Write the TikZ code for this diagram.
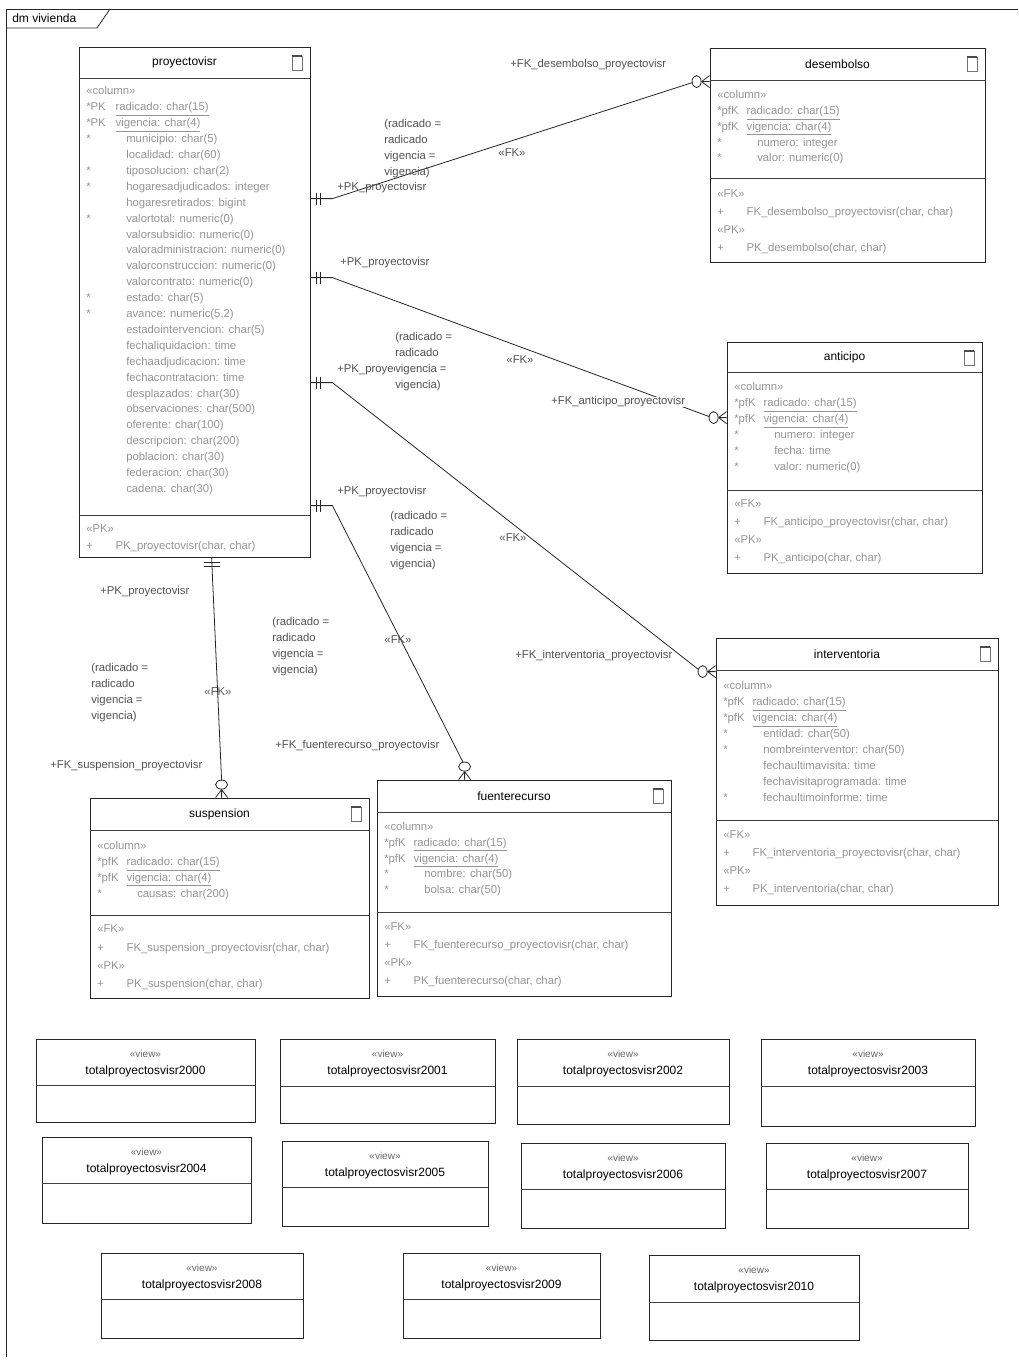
\documentclass[tikz,border=0pt]{standalone}
\usepackage{fontspec}
\setmainfont{Liberation Sans}
\usetikzlibrary{calc,fit}
\newcommand\pkr[2]{\makebox[22pt][l]{#1}\underline{#2}}
\newcommand\atr[2]{\makebox[30pt][l]{#1}#2}
\newcommand\opr[1]{\makebox[22pt][l]{+}#1}
\tikzset{
 tbl/.style={draw=black!85, line width=0.6pt, inner sep=0pt, fit={#1}},
 inl/.style={draw=black!75, line width=0.6pt},
 ttl/.style={font=\fontsize{9}{11}\selectfont, text=black, inner sep=0pt},
 attr/.style={anchor=west, inner sep=0pt, font=\fontsize{8.5}{10}\selectfont, text=black!42, text height=6.2pt, text depth=1.8pt},
 lbl/.style={anchor=west, inner sep=0pt, font=\fontsize{8.5}{10}\selectfont, text=black!68},
 cond/.style={anchor=north west, inner sep=0pt, align=left, font=\fontsize{8.5}{12}\selectfont, text=black!68},
 conn/.style={draw=black!85, line width=0.6pt},
 stereo/.style={inner sep=0pt, font=\fontsize{7.5}{9}\selectfont, text=black!60},
 vname/.style={inner sep=0pt, font=\fontsize{9}{11}\selectfont, text=black},
 icon/.style={draw=black!55, line width=0.4pt},
}
\newcommand\erTable[8]{%
 \node[tbl={(#2,#3) (#4,#5)}] (#1) {};
 \draw[inl] (#2,#6) -- (#4,#6);
 \draw[inl] (#2,#7) -- (#4,#7);
 \node[ttl] (#1-t) at ({(#2+#4)/2-10},{(#3+#6)/2}) {#8};
 \draw[icon] ({#4-18},{#3+9}) rectangle ({#4-8},{#3+23});
 \draw[line width=1.1pt, black!70] ({#4-18},{#3+9}) -- ({#4-8},{#3+9});
}
\newcommand\erRows[5]{%
 \foreach \rowtxt [count=\rowi] in {#5} {\node[attr] (#1-\rowi) at (#2,{#3+(\rowi-1)*#4}) {\rowtxt};}
}
\newcommand\erView[7]{%
 \node[tbl={(#2,#3) (#4,#5)}] (#1) {};
 \draw[inl] (#2,#6) -- (#4,#6);
 \node[stereo] (#1-s) at ({(#2+#4)/2},{#3+15}) {«view»};
 \node[vname] (#1-n) at ({(#2+#4)/2},{#3+32}) {#7};
}
\newcommand\barsH[1]{\draw[conn] ($(#1)+(6,-6)$) -- ++(0,12) ($(#1)+(10,-6)$) -- ++(0,12);}
\newcommand\crowH[1]{%
 \draw[conn] ($(#1)+(-8,0)$) -- (#1) ($(#1)+(-8,0)$) -- ($(#1)+(0,-6)$) ($(#1)+(-8,0)$) -- ($(#1)+(0,6)$);
 \draw[conn] ($(#1)+(-13,0)$) ellipse [x radius=3.4pt, y radius=4.5pt];}
\newcommand\crowV[1]{%
 \draw[conn] ($(#1)+(0,-8)$) -- (#1) ($(#1)+(0,-8)$) -- ($(#1)+(-6,0)$) ($(#1)+(0,-8)$) -- ($(#1)+(6,0)$);
 \draw[conn] ($(#1)+(0,-13)$) ellipse [x radius=4.5pt, y radius=3.4pt];}
\begin{document}
\begin{tikzpicture}[x=0.75pt,y=-0.75pt]
\useasboundingbox (0,0) rectangle (1018,1363);
% frame
\draw[conn] (6,1357) -- (6,9) -- (1018,9);
\draw[conn] (6,28) -- (97,28) -- (110,9);
\node[lbl, text=black, font=\fontsize{9}{11}\selectfont] (frame-t) at (12,18) {dm vivienda};

% proyectovisr
\erTable{proy}{79}{47}{310}{557}{78}{515}{proyectovisr}
\erRows{proy-a}{86}{92}{15.9}{{«column»},{\pkr{*PK}{radicado: char(15)}},{\pkr{*PK}{vigencia: char(4)}},{\atr{*}{municipio: char(5)}},{\atr{}{localidad: char(60)}},{\atr{*}{tiposolucion: char(2)}},{\atr{*}{hogaresadjudicados: integer}},{\atr{}{hogaresretirados: bigint}},{\atr{*}{valortotal: numeric(0)}},{\atr{}{valorsubsidio: numeric(0)}},{\atr{}{valoradministracion: numeric(0)}},{\atr{}{valorconstruccion: numeric(0)}},{\atr{}{valorcontrato: numeric(0)}},{\atr{*}{estado: char(5)}},{\atr{*}{avance: numeric(5,2)}},{\atr{}{estadointervencion: char(5)}},{\atr{}{fechaliquidacion: time}},{\atr{}{fechaadjudicacion: time}},{\atr{}{fechacontratacion: time}},{\atr{}{desplazados: char(30)}},{\atr{}{observaciones: char(500)}},{\atr{}{oferente: char(100)}},{\atr{}{descripcion: char(200)}},{\atr{}{poblacion: char(30)}},{\atr{}{federacion: char(30)}},{\atr{}{cadena: char(30)}}}
\erRows{proy-o}{86}{530}{17}{{«PK»},{\opr{PK\_proyectovisr(char, char)}}}

% desembolso
\erTable{des}{710}{48}{985}{262}{80}{178}{desembolso}
\erRows{des-a}{717}{96}{15.7}{{«column»},{\pkr{*pfK}{radicado: char(15)}},{\pkr{*pfK}{vigencia: char(4)}},{\atr{*}{numero: integer}},{\atr{*}{valor: numeric(0)}}}
\erRows{des-o}{717}{195}{17.7}{{«FK»},{\opr{FK\_desembolso\_proyectovisr(char, char)}},{«PK»},{\opr{PK\_desembolso(char, char)}}}

% anticipo
\erTable{ant}{727}{342}{982}{573}{372}{490}{anticipo}
\erRows{ant-a}{734}{388}{16}{{«column»},{\pkr{*pfK}{radicado: char(15)}},{\pkr{*pfK}{vigencia: char(4)}},{\atr{*}{numero: integer}},{\atr{*}{fecha: time}},{\atr{*}{valor: numeric(0)}}}
\erRows{ant-o}{734}{505}{17.7}{{«FK»},{\opr{FK\_anticipo\_proyectovisr(char, char)}},{«PK»},{\opr{PK\_anticipo(char, char)}}}

% interventoria
\erTable{int}{716}{638}{998}{905}{670}{820}{interventoria}
\erRows{int-a}{723}{687}{16}{{«column»},{\pkr{*pfK}{radicado: char(15)}},{\pkr{*pfK}{vigencia: char(4)}},{\atr{*}{entidad: char(50)}},{\atr{*}{nombreinterventor: char(50)}},{\atr{}{fechaultimavisita: time}},{\atr{}{fechavisitaprogramada: time}},{\atr{*}{fechaultimoinforme: time}}}
\erRows{int-o}{723}{836}{17.7}{{«FK»},{\opr{FK\_interventoria\_proyectovisr(char, char)}},{«PK»},{\opr{PK\_interventoria(char, char)}}}

% suspension
\erTable{sus}{90}{798}{369}{998}{830}{915}{suspension}
\erRows{sus-a}{97}{847}{15.7}{{«column»},{\pkr{*pfK}{radicado: char(15)}},{\pkr{*pfK}{vigencia: char(4)}},{\atr{*}{causas: char(200)}}}
\erRows{sus-o}{97}{930}{18.3}{{«FK»},{\opr{FK\_suspension\_proyectovisr(char, char)}},{«PK»},{\opr{PK\_suspension(char, char)}}}

% fuenterecurso
\erTable{fue}{377}{780}{671}{996}{812}{912}{fuenterecurso}
\erRows{fue-a}{384}{828}{15.6}{{«column»},{\pkr{*pfK}{radicado: char(15)}},{\pkr{*pfK}{vigencia: char(4)}},{\atr{*}{nombre: char(50)}},{\atr{*}{bolsa: char(50)}}}
\erRows{fue-o}{384}{928}{17.7}{{«FK»},{\opr{FK\_fuenterecurso\_proyectovisr(char, char)}},{«PK»},{\opr{PK\_fuenterecurso(char, char)}}}

% views
\erView{v2000}{36}{1039}{255}{1122}{1085}{totalproyectosvisr2000}
\erView{v2001}{280}{1039}{495}{1123}{1086}{totalproyectosvisr2001}
\erView{v2002}{517}{1039}{729}{1124}{1086}{totalproyectosvisr2002}
\erView{v2003}{761}{1039}{975}{1126}{1086}{totalproyectosvisr2003}
\erView{v2004}{42}{1137}{251}{1223}{1183}{totalproyectosvisr2004}
\erView{v2005}{282}{1141}{488}{1226}{1187}{totalproyectosvisr2005}
\erView{v2006}{521}{1143}{725}{1228}{1189}{totalproyectosvisr2006}
\erView{v2007}{766}{1143}{968}{1228}{1189}{totalproyectosvisr2007}
\erView{v2008}{101}{1253}{303}{1338}{1299}{totalproyectosvisr2008}
\erView{v2009}{403}{1253}{600}{1338}{1299}{totalproyectosvisr2009}
\erView{v2010}{649}{1255}{859}{1340}{1302}{totalproyectosvisr2010}

% connector anchors
\coordinate (c1s) at ($(proy.north east)+(0,152)$);
\coordinate (c1e) at ($(des.north west)+(0,34)$);
\coordinate (c2s) at ($(proy.north east)+(0,231)$);
\coordinate (c2e) at ($(ant.north west)+(0,76)$);
\coordinate (c3s) at ($(proy.north east)+(0,336)$);
\coordinate (c3e) at ($(int.north west)+(0,34)$);
\coordinate (c4s) at ($(proy.north east)+(0,459)$);
\coordinate (c4e) at ($(fue.north west)+(88,0)$);
\coordinate (c5s) at ($(proy.south west)+(133,0)$);
\coordinate (c5e) at ($(sus.north west)+(132,0)$);

% connectors
\draw[conn] (c1s) -- ++(22,0) -- ($(c1e)+(-17.3,1)$);
\barsH{c1s} \crowH{c1e}
\draw[conn] (c2s) -- ++(22,0) -- ($(c2e)+(-17.3,-1)$);
\barsH{c2s} \crowH{c2e}
\draw[conn] (c3s) -- ++(22,0) -- ($(c3e)+(-17,-2)$);
\barsH{c3s} \crowH{c3e}
\draw[conn] (c4s) -- ++(22,0) -- ($(c4e)+(-1.5,-17.3)$);
\barsH{c4s} \crowV{c4e}
\draw[conn] (c5s) -- ($(c5e)+(0,-17.3)$);
\draw[conn] ($(c5s)+(-8,5)$) -- ++(16,0) ($(c5s)+(-8,9)$) -- ++(16,0);
\crowV{c5e}

% labels connector 1
\node[lbl] (l1a) at (510,65) {+FK\_desembolso\_proyectovisr};
\node[cond] (l1b) at (384,119) {(radicado =\\radicado\\vigencia =\\vigencia)};
\node[lbl, anchor=center] (l1c) at (512,153) {«FK»};
\node[lbl] (l1d) at (337,188) {+PK\_proyectovisr};
% connector 2
\node[lbl] (l2a) at (340,263) {+PK\_proyectovisr};
\node[lbl] (l3a) at (337,370) {+PK\_proyectovisr};
\node[cond, fill=white] (l2b) at (395,332) {(radicado =\\radicado\\vigencia =\\vigencia)};
\node[lbl, anchor=center] (l2c) at (520,360) {«FK»};
\node[lbl, fill=white] (l2d) at (551,402) {+FK\_anticipo\_proyectovisr};
% connector 3
\node[lbl, anchor=center] (l3c) at (513,538) {«FK»};
\node[lbl, fill=white] (l3d) at (515,656) {+FK\_interventoria\_proyectovisr};
% connector 4
\node[lbl] (l4a) at (337,492) {+PK\_proyectovisr};
\node[cond] (l4b) at (390,511) {(radicado =\\radicado\\vigencia =\\vigencia)};
\node[lbl, anchor=center] (l4c) at (398,640) {«FK»};
\node[lbl] (l4d) at (275,746) {+FK\_fuenterecurso\_proyectovisr};
\node[cond] (l4e) at (272,617) {(radicado =\\radicado\\vigencia =\\vigencia)};
% connector 5
\node[lbl] (l5a) at (100,592) {+PK\_proyectovisr};
\node[cond] (l5b) at (91,663) {(radicado =\\radicado\\vigencia =\\vigencia)};
\node[lbl, anchor=center] (l5c) at (218,692) {«FK»};
\node[lbl] (l5d) at (50,766) {+FK\_suspension\_proyectovisr};
\end{tikzpicture}
\end{document}
